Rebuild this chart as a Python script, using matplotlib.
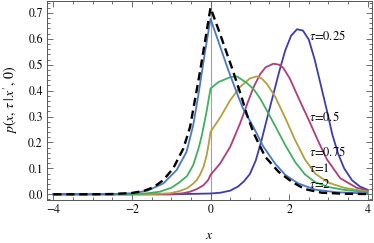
import numpy as np
import matplotlib
matplotlib.use('Agg')
import matplotlib.pyplot as plt
from matplotlib.ticker import MultipleLocator

# values
x_025 = [-4, -1, 0, 0.25, 0.5, 0.7, 0.85, 1.0, 1.15, 1.3, 1.45, 1.6, 1.75, 1.9, 2.05,
         2.2, 2.35, 2.5, 2.65, 2.8, 2.95, 3.1, 3.25, 3.4, 3.6, 3.8, 4.0]
y_025 = [0, 0, 0.003, 0.006, 0.014, 0.03, 0.05, 0.078, 0.13, 0.21, 0.30, 0.387, 0.475, 0.555, 0.612,
         0.637, 0.632, 0.597, 0.52, 0.425, 0.33, 0.23, 0.155, 0.10, 0.054, 0.03, 0.017]

x_05 = [-4, -1.0, -0.7, -0.52, -0.35, -0.18, -0.06, 0, 0.24, 0.5, 0.75, 0.96, 1.1, 1.26, 1.4,
        1.6, 1.75, 1.85, 2.02, 2.19, 2.35, 2.49, 2.74, 2.96, 3.3, 3.72, 4.0]
y_05 = [0, 0, 0.004, 0.01, 0.02, 0.035, 0.055, 0.075, 0.118, 0.183, 0.273, 0.36, 0.415, 0.463, 0.49,
        0.504, 0.5, 0.488, 0.446, 0.388, 0.335, 0.29, 0.205, 0.135, 0.062, 0.025, 0.015]

x_075 = [-4, -1.6, -1.03, -0.8, -0.6, -0.45, -0.35, -0.27, -0.18, -0.1, -0.04, 0, 0.24, 0.5, 0.75,
         1.0, 1.17, 1.3, 1.43, 1.64, 1.9, 2.15, 2.4, 2.66, 3.0, 3.4, 4.0]
y_075 = [0, 0, 0.004, 0.012, 0.023, 0.04, 0.055, 0.075, 0.105, 0.15, 0.2, 0.241, 0.295, 0.363, 0.414,
         0.447, 0.455, 0.447, 0.427, 0.378, 0.295, 0.21, 0.135, 0.08, 0.045, 0.025, 0.01]

x_1 = [-4, -2, -1.6, -1.29, -1.0, -0.8, -0.6, -0.44, -0.3, -0.22, -0.1, 0, 0.2, 0.5, 0.67, 0.92,
       1.1, 1.26, 1.39, 1.64, 1.9, 2.15, 2.4, 2.66, 3.0, 3.4, 4.0]
y_1 = [0, 0, 0.004, 0.01, 0.025, 0.045, 0.07, 0.113, 0.18, 0.228, 0.32, 0.408, 0.433, 0.452, 0.455, 0.43,
       0.405, 0.37, 0.335, 0.265, 0.19, 0.125, 0.077, 0.047, 0.028, 0.017, 0.008]

x_2 = [-4, -2.5, -2.0, -1.6, -1.2, -0.86, -0.61, -0.44, -0.31, -0.14, 0, 0.2, 0.45, 0.71, 0.83,
       1.09, 1.34, 1.64, 1.9, 2.23, 2.66, 3.2, 4.0]
y_2 = [0, 0.001, 0.004, 0.014, 0.042, 0.094, 0.164, 0.267, 0.383, 0.55, 0.677, 0.59, 0.48, 0.375, 0.33,
       0.26, 0.185, 0.119, 0.075, 0.042, 0.018, 0.008, 0.003]

x_stat = [-4, -3, -2.5, -2.0, -1.7, -1.45, -1.2, -0.95, -0.69, -0.52, -0.39, -0.26, -0.13, 0, 0.24,
          0.54, 0.79, 0.92, 1.1, 1.39, 1.73, 2.07, 2.4, 2.83, 3.4, 4.0]
y_stat = [0, 0, 0.001, 0.005, 0.013, 0.027, 0.055, 0.10, 0.177, 0.26, 0.37, 0.48, 0.6, 0.72, 0.62,
          0.49, 0.375, 0.31, 0.235, 0.145, 0.087, 0.048, 0.02, 0.006, 0.002, 0.001]

curve_labels = [r'$\tau$=0.25', r'$\tau$=0.5', r'$\tau$=0.75', r'$\tau$=1', r'$\tau$=2']
label_x = 2.51
label_y = [0.61, 0.298, 0.164, 0.10, 0.036]

colors = ['#3c3cb0', '#b03c7a', '#b0a040', '#40b060', '#4a78c4']

plt.rcParams['font.family'] = 'STIXGeneral'
plt.rcParams['mathtext.fontset'] = 'stix'

fig = plt.figure(figsize=(3.74, 2.43), dpi=100)
ax = fig.add_axes([0.1257, 0.177, 0.8681, 0.82])

ax.axvline(0, color='#a0a0a0', lw=0.8, zorder=1)

series = [(x_025, y_025), (x_05, y_05), (x_075, y_075), (x_1, y_1), (x_2, y_2)]
for (xs, ys), c in zip(series, colors):
    ax.plot(xs, ys, color=c, lw=1.3, zorder=2, solid_joinstyle='round')
ax.plot(x_stat, y_stat, color='black', lw=1.7, ls=(0, (3.5, 2)), zorder=3)

for lab, ly in zip(curve_labels, label_y):
    ax.text(label_x, ly, lab, fontsize=9, va='center', ha='left')

ax.set_xlim(-4.16, 4.10)
ax.set_ylim(-0.022, 0.747)
ax.xaxis.set_major_locator(MultipleLocator(2))
ax.xaxis.set_minor_locator(MultipleLocator(0.5))
ax.yaxis.set_major_locator(MultipleLocator(0.1))
ax.yaxis.set_minor_locator(MultipleLocator(0.02))
ax.yaxis.set_major_formatter(matplotlib.ticker.FormatStrFormatter('%.1f'))
ax.tick_params(which='both', direction='in', top=True, right=True, labelsize=8.5,
               color='#555555', width=0.6)
ax.tick_params(which='major', length=4, pad=3)
ax.tick_params(which='minor', length=2)
for s in ax.spines.values():
    s.set_color('#555555')
    s.set_linewidth(0.7)

ax.set_xlabel(r'$x$', fontsize=10, labelpad=9)
ax.set_ylabel(r'$p(x,\,\tau\,|\,x^{\prime},\,0)$', fontsize=10, labelpad=6)

fig.savefig('out.png', dpi=100)
